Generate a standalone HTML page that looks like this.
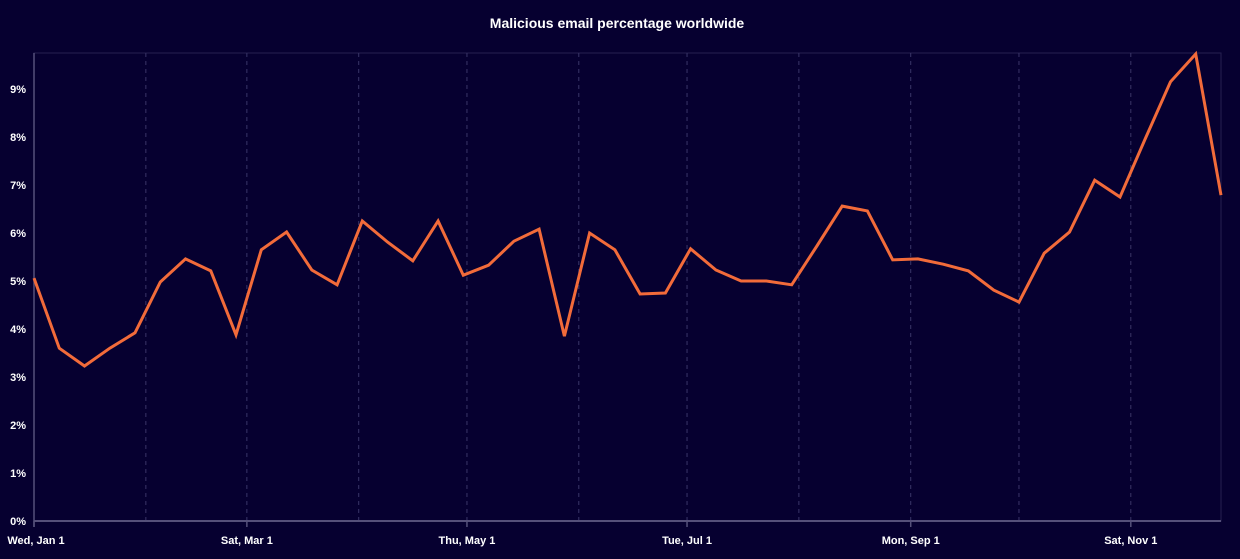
<!DOCTYPE html>
<html><head><meta charset="utf-8"><style>
html,body{margin:0;padding:0;background:#060030;}
svg{display:block;font-family:"Liberation Sans",sans-serif;}
</style></head><body>
<svg width="1240" height="559" id="chart">
<rect width="1240" height="559" fill="#060030"/>
<text x="617" y="28" fill="#ffffff" font-size="14" font-weight="bold" text-anchor="middle">Malicious email percentage worldwide</text>
<g id="grid"></g><g id="axes"></g><g id="series"></g>
</svg>
<script>
const values=[5.06,3.6,3.23,3.6,3.92,4.98,5.46,5.21,3.88,5.65,6.02,5.23,4.92,6.25,5.81,5.42,6.25,5.12,5.33,5.83,6.08,3.85,6.0,5.65,4.73,4.75,5.67,5.23,5.0,5.0,4.92,5.73,6.56,6.46,5.44,5.46,5.35,5.21,4.81,4.56,5.58,6.02,7.1,6.75,7.96,9.15,9.73,6.79];
const days=[0,7,14,21,28,35,42,49,56,63,70,77,84,91,98,105,112,119,126,133,140,147,154,161,168,175,182,189,196,203,210,217,224,231,238,245,252,259,266,273,280,287,294,301,308,315,322,329];
const yTicks=[0,1,2,3,4,5,6,7,8,9];
const monthDays=[0,31,59,90,120,151,181,212,243,273,304];
const monthLabels=["Wed, Jan 1","","Sat, Mar 1","","Thu, May 1","","Tue, Jul 1","","Mon, Sep 1","","Sat, Nov 1"];
const NS="http://www.w3.org/2000/svg";
const x0=34,x1=1221,y0=521,yTop=53,dayMax=329,vMax=9.75;
const X=d=>x0+(x1-x0)*d/dayMax;
const Y=v=>y0-(y0-yTop)*v/vMax;
function mk(t,a,p){const e=document.createElementNS(NS,t);for(const k in a)e.setAttribute(k,a[k]);p.appendChild(e);return e;}
const grid=document.getElementById('grid'),axes=document.getElementById('axes'),series=document.getElementById('series');
const frame=mk('rect',{x:x0,y:yTop,width:x1-x0,height:y0-yTop,fill:'none',stroke:'#252050','stroke-width':1},grid);


monthDays.forEach((d,i)=>{
 if(d>0){const l=mk('line',{x1:X(d),x2:X(d),y1:yTop,y2:y0,stroke:'#3a3568','stroke-dasharray':'4,4','stroke-width':1},grid);
 
 }
 if(monthLabels[i]){
  const tk=mk('line',{x1:X(d),x2:X(d),y1:y0,y2:y0+6,stroke:'#55507a','stroke-width':1.5},axes);
  
  
  const t=mk('text',{x:i===0?X(d)+2:X(d),y:544,fill:'#ffffff','font-size':11,'font-weight':'bold','text-anchor':'middle'},axes);
  t.textContent=monthLabels[i];
  
  
 }
});
const ax=mk('line',{x1:x0,x2:x1,y1:y0,y2:y0,stroke:'#55507a','stroke-width':2},axes);


const ay=mk('line',{x1:x0,x2:x0,y1:yTop,y2:y0+6,stroke:'#55507a','stroke-width':1.5},axes);


yTicks.forEach(v=>{
 const t=mk('text',{x:26,y:Y(v)+4,fill:'#ffffff','font-size':11,'font-weight':'bold','text-anchor':'end'},axes);
 t.textContent=v+'%';
 
 
});
const pts=values.map((v,i)=>X(days[i]).toFixed(1)+','+Y(v).toFixed(1)).join(' ');
const pl=mk('polyline',{points:pts,fill:'none',stroke:'#f26b3a','stroke-width':3,'stroke-linejoin':'miter'},series);


</script>
</body></html>
